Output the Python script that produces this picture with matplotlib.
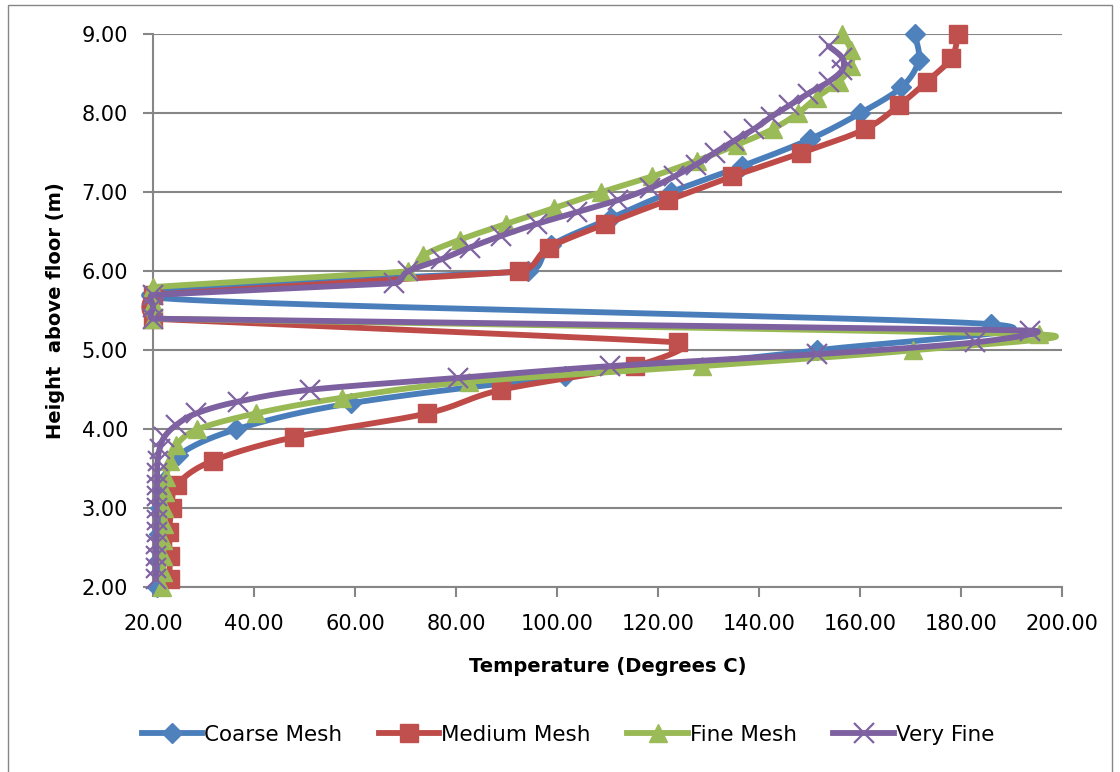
import numpy as np
import matplotlib
matplotlib.use("Agg")
import matplotlib.pyplot as plt
from matplotlib.lines import Line2D
from matplotlib.patches import Rectangle
from matplotlib.ticker import FormatStrFormatter, MultipleLocator

# --- data: temperature (C) against height above floor (m) ---
coarse_h = [2.00, 2.33, 2.67, 3.00, 3.33, 3.67, 4.00, 4.33, 4.67, 5.00, 5.33,
            5.67, 6.00, 6.33, 6.67, 7.00, 7.33, 7.67, 8.00, 8.33, 8.67, 9.00]
coarse_t = [20.8, 21.0, 21.1, 21.3, 22.0, 25.0, 36.5, 59.2, 101.5, 151.5, 186.0,
            20.0, 94.2, 98.9, 110.6, 122.5, 136.6, 150.0, 160.0, 168.2, 171.6, 170.8]

medium_h = [2.1, 2.4, 2.7, 3.0, 3.3, 3.6, 3.9, 4.2, 4.5, 4.8, 5.1, 5.4,
            5.7, 6.0, 6.3, 6.6, 6.9, 7.2, 7.5, 7.8, 8.1, 8.4, 8.7, 9.0]
medium_t = [23.3, 23.3, 23.2, 23.7, 24.8, 31.8, 47.9, 74.2, 89.0, 115.4, 123.9, 20.0,
            20.0, 92.5, 98.4, 109.6, 122.0, 134.7, 148.4, 161.0, 167.7, 173.2, 178.1, 179.4]

fine_h = [2.0, 2.2, 2.4, 2.6, 2.8, 3.0, 3.2, 3.4, 3.6, 3.8, 4.0, 4.2,
          4.4, 4.6, 4.8, 5.0, 5.2, 5.4, 5.6, 5.8, 6.0, 6.2, 6.4, 6.6,
          6.8, 7.0, 7.2, 7.4, 7.6, 7.8, 8.0, 8.2, 8.4, 8.6, 8.8, 9.0]
fine_t = [21.8, 22.0, 22.0, 22.0, 22.1, 22.2, 22.3, 22.6, 23.4, 24.6, 28.8, 40.3,
          57.5, 82.5, 128.8, 170.4, 195.5, 20.0, 20.0, 20.0, 70.5, 73.5, 80.8, 89.9,
          99.4, 108.7, 118.8, 127.7, 135.6, 142.7, 147.7, 151.4, 155.8, 158.2, 158.2, 156.4]

vfine_h = [2.10, 2.25, 2.40, 2.55, 2.70, 2.85, 3.00, 3.15, 3.30, 3.45, 3.60, 3.75,
           3.90, 4.05, 4.20, 4.35, 4.50, 4.65, 4.80, 4.95, 5.10, 5.25, 5.40, 5.55,
           5.70, 5.85, 6.00, 6.15, 6.30, 6.45, 6.60, 6.75, 6.90, 7.05, 7.20, 7.35,
           7.50, 7.65, 7.80, 7.95, 8.10, 8.25, 8.40, 8.55, 8.70, 8.85]
vfine_t = [20.6, 20.6, 20.6, 20.6, 20.7, 20.7, 20.7, 20.7, 20.8, 20.8, 20.9, 21.3,
           22.2, 24.5, 28.5, 36.8, 51.0, 80.3, 110.5, 151.4, 182.8, 193.7, 20.0, 20.0,
           20.0, 67.8, 70.5, 77.0, 82.7, 89.0, 96.0, 104.0, 112.0, 118.4, 123.2, 127.5,
           131.2, 135.0, 139.0, 142.3, 146.0, 149.7, 153.8, 156.5, 156.5, 153.8]

series_names = ["Coarse Mesh", "Medium Mesh", "Fine Mesh", "Very Fine"]
line_colors = ["#4A7EBB", "#BE4B48", "#98B954", "#7D60A0"]
marker_colors = ["#4F81BD", "#C0504D", "#9BBB59", "#8064A2"]


def smooth(x, y, sx=916 / 180, sy=79.0, n=30):
    # Excel style smoothed line: bezier through the points in screen units,
    # tangents clipped so short segments don't swing out
    p = np.column_stack([np.asarray(x) * sx, np.asarray(y) * sy])
    m = len(p)
    tang = np.zeros_like(p)
    for i in range(m):
        a = p[max(i - 1, 0)]
        b = p[min(i + 1, m - 1)]
        tv = (b - a) / 6
        lim = []
        if i > 0:
            lim.append(np.linalg.norm(p[i] - p[i - 1]) / 2)
        if i < m - 1:
            lim.append(np.linalg.norm(p[i + 1] - p[i]) / 2)
        L = np.linalg.norm(tv)
        if L > 0 and L > min(lim):
            tv = tv * min(lim) / L
        tang[i] = tv
    t = np.linspace(0, 1, n)[:, None]
    out = []
    for i in range(m - 1):
        p1, p2 = p[i], p[i + 1]
        c1 = p1 + tang[i]
        c2 = p2 - tang[i + 1]
        seg = ((1 - t) ** 3) * p1 + 3 * ((1 - t) ** 2) * t * c1 + 3 * (1 - t) * t ** 2 * c2 + t ** 3 * p2
        out.append(seg)
    out = np.vstack(out)
    return out[:, 0] / sx, out[:, 1] / sy


W, H = 1120, 772
fig = plt.figure(figsize=(W / 100, H / 100), dpi=100)
ax = fig.add_axes([153 / W, 1 - 587.3 / H, (1062 - 153) / W, (587.3 - 34.3) / H])

# outer chart border (bottom edge runs off the picture)
fig.patches.append(Rectangle((7.5 / W, -4 / H), (1112 - 7.5) / W, (772 - 4.5 + 4) / H,
                             transform=fig.transFigure, fill=False,
                             edgecolor="#868686", linewidth=1.0))

data = [(coarse_t, coarse_h), (medium_t, medium_h), (fine_t, fine_h), (vfine_t, vfine_h)]
markers = [dict(marker="D", markersize=10),
           dict(marker="s", markersize=13),
           dict(marker="^", markersize=13),
           dict(marker="x", markersize=14, markeredgewidth=1.6)]

handles = []
for k, (t, h) in enumerate(data):
    xs, ys = smooth(t, h)
    z = 3 + 2 * k
    ax.plot(xs, ys, color=line_colors[k], lw=4.2, solid_capstyle="round",
            zorder=z, clip_on=False)
    ax.plot(t, h, linestyle="none", color=marker_colors[k], markeredgecolor=marker_colors[k],
            zorder=z + 1, clip_on=False, **markers[k])
    handles.append(Line2D([], [], color=line_colors[k], lw=4.2,
                          markerfacecolor=marker_colors[k], markeredgecolor=marker_colors[k],
                          **markers[k]))

ax.set_xlim(20, 200)
ax.set_ylim(2, 9)
ax.xaxis.set_major_locator(MultipleLocator(20))
ax.yaxis.set_major_locator(MultipleLocator(1))
ax.xaxis.set_major_formatter(FormatStrFormatter("%.2f"))
ax.yaxis.set_major_formatter(FormatStrFormatter("%.2f"))
ax.grid(axis="y", color="#868686", lw=1.5)
ax.set_axisbelow(True)

for s in ["top", "right"]:
    ax.spines[s].set_visible(False)
for s in ["left", "bottom"]:
    ax.spines[s].set_color("#868686")
    ax.spines[s].set_linewidth(1.5)
ax.tick_params(axis="both", direction="out", length=7, width=1.5, color="#868686",
               labelsize=15)
ax.tick_params(axis="x", pad=12)
ax.tick_params(axis="y", pad=11)

ax.set_xlabel("Temperature (Degrees C)", fontsize=14, fontweight="bold", labelpad=17)
ax.set_ylabel("Height  above floor (m)", fontsize=14, fontweight="bold", labelpad=12)

fig.legend(handles=handles, labels=series_names, loc="center", ncol=4,
           bbox_to_anchor=(568 / W, 1 - 735 / H), frameon=False, fontsize=15.5,
           handlelength=2.8, handletextpad=0.1, columnspacing=1.7)

fig.savefig("out.png", dpi=100)
